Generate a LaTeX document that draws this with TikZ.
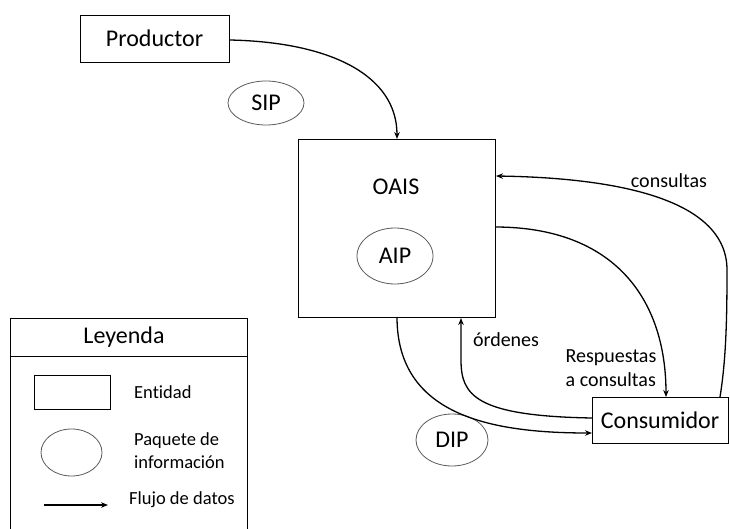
\documentclass[tikz,border=0pt]{standalone}
\usepackage{fontspec}
\setmainfont{Carlito}[Ligatures=NoCommon]
\usetikzlibrary{arrows.meta,shapes.geometric}
\begin{document}
\begin{tikzpicture}[x=1pt,y=-1pt,
  entity/.style={draw,line width=0.9pt,rectangle,inner sep=0pt,font=\fontsize{24}{28}\selectfont},
  package/.style={draw=black!65,line width=0.8pt,ellipse,inner sep=0pt,font=\fontsize{24}{28}\selectfont},
  flow/.style={line width=1.3pt,-{Stealth[length=7pt,width=5.5pt]}},
  lbl/.style={font=\fontsize{20}{24}\selectfont,inner sep=0pt},
  leg/.style={font=\fontsize{18.5}{23}\selectfont,inner sep=0pt,anchor=west,align=left}]
\useasboundingbox (0,0) rectangle (730,529);

% main entities
\node[entity,minimum width=149pt,minimum height=47pt] (prod) at (154.5,38.5) {Productor};
\node[entity,minimum width=197pt,minimum height=178pt] (oais) at (396.5,228) {};
\node[font=\fontsize{24}{28}\selectfont] (oaislbl) at (396,187) {OAIS};
\node[entity,minimum width=136pt,minimum height=46pt] (cons) at (660,420) {Consumidor};

% information packages
\node[package,minimum width=76pt,minimum height=44pt] (sip) at (266,103) {SIP};
\node[package,minimum width=76pt,minimum height=56pt] (aip) at (395,256) {AIP};
\node[package,minimum width=72pt,minimum height=52pt] (dip) at (452,440) {DIP};

% data flows
\coordinate (oaisTop) at (397,139);
\coordinate (oaisQ) at (496,176);
\coordinate (oaisR) at (495,227);
\coordinate (oaisB) at (397,317);
\coordinate (oaisO) at (461,318);
\coordinate (consQ) at (720,397);
\coordinate (consR) at (666,397);
\coordinate (consO) at (592,418);
\coordinate (consD) at (592,433);

\draw[flow] (prod.east |- 0,40) .. controls (330,42) and (397,75) .. (oaisTop);
\draw[flow] (consQ) .. controls (726,360) and (727,320) .. (727,270)
  .. controls (727,200) and (620,178) .. (oaisQ);
\draw[flow] (oaisR) .. controls (615,227) and (666,300) .. (consR);
\draw[flow] (consO) .. controls (475,416) and (461,395) .. (461,360) -- (oaisO);
\draw[flow] (oaisB) .. controls (397,415) and (490,433) .. (consD);

% flow labels
\node[lbl] (qlbl) at (669,181) {consultas};
\node[lbl] (olbl) at (506,340) {órdenes};
\node[lbl,align=left] (rlbl) at (611,368) {Respuestas\\a consultas};

% legend
\draw[line width=0.9pt] (10,535) -- (10,318) -- (247,318) -- (247,535);
\draw[line width=0.9pt] (10,356) -- (247,356);
\node[font=\fontsize{24}{28}\selectfont] (legtitle) at (124,337) {Leyenda};
\node[draw,line width=0.9pt,minimum width=76pt,minimum height=34pt,inner sep=0pt] (legent) at (72,392) {};
\node[leg] (legenttxt) at (134,392) {Entidad};
\node[draw=black!65,line width=0.8pt,ellipse,minimum width=61pt,minimum height=47pt,inner sep=0pt] (legpkg) at (71.5,452.5) {};
\node[leg] (legpkgtxt) at (134,451) {Paquete de\\información};
\coordinate (legA) at (44,505);
\coordinate (legB) at (108,505);
\draw[flow] (legA) -- (legB);
\node[leg] (legflowtxt) at (129,500) {Flujo de datos};
\end{tikzpicture}
\end{document}
